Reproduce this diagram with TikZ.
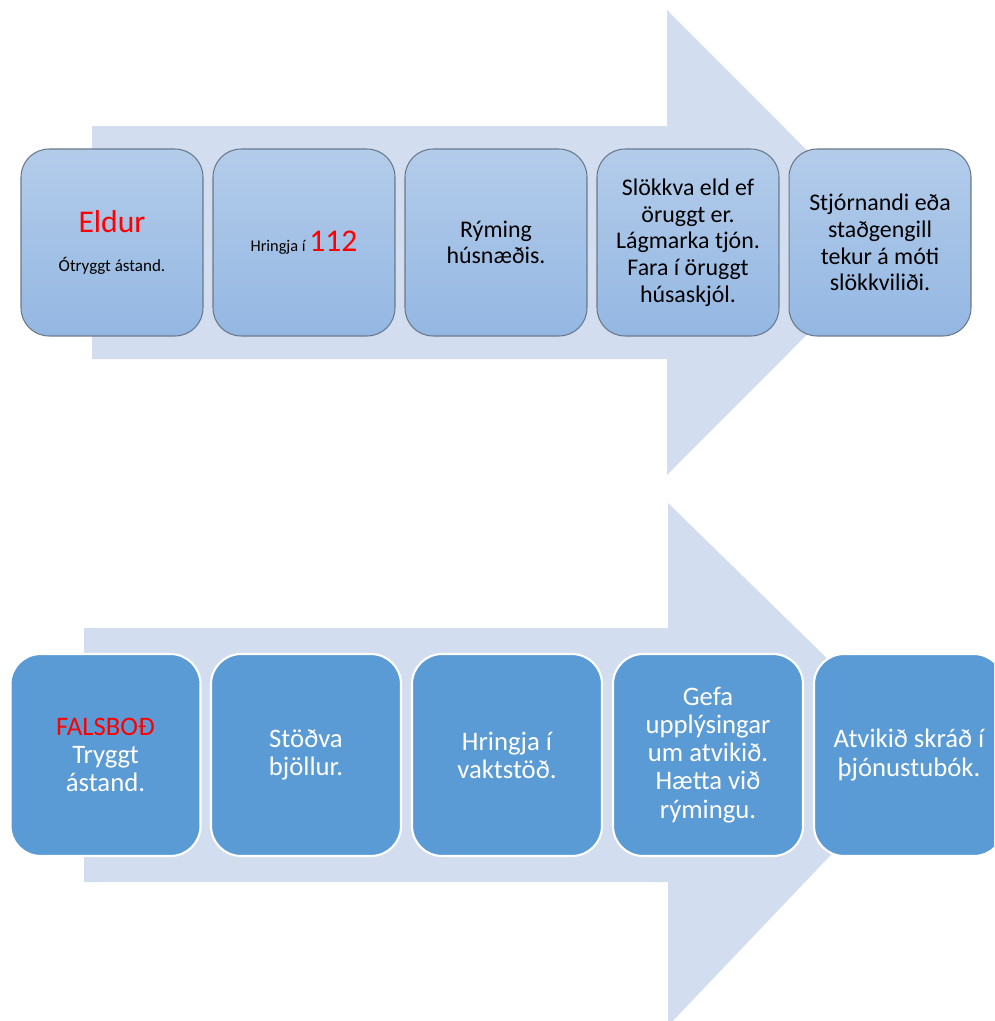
\documentclass[tikz,border=0pt]{standalone}
\usepackage{fontspec}
\setmainfont{Carlito}
\usetikzlibrary{positioning}
\definecolor{arrowfill}{RGB}{210,222,239}
\definecolor{boxtop}{RGB}{179,204,234}
\definecolor{boxbot}{RGB}{148,183,226}
\definecolor{boxline}{RGB}{106,120,138}
\definecolor{stepblue}{RGB}{91,155,213}
\definecolor{alarmred}{RGB}{255,0,0}
\tikzset{
  topbox/.style={rectangle, rounded corners=0.56cm, draw=boxline, line width=0.6pt,
    top color=boxtop, bottom color=boxbot, minimum width=3.64cm, minimum height=3.74cm,
    align=center, inner sep=2pt, font=\fontsize{13.6}{15.2}\selectfont},
  lowbox/.style={rectangle, rounded corners=0.6cm, draw=white, line width=1.2pt,
    fill=stepblue, text=white, minimum width=3.8cm, minimum height=4.04cm,
    align=center, inner sep=2pt, font=\fontsize{15.2}{16}\selectfont}
}
\begin{document}
\begin{tikzpicture}[x=0.02cm, y=-0.02cm]
\useasboundingbox (0,0) rectangle (994,1021);
\clip (0,0) rectangle (994,1021);
% top arrow
\fill[arrowfill] (92,126) -- (667,126) -- (667,10) -- (899,242.5) -- (667,475) -- (667,359) -- (92,359) -- cycle;
\node[topbox, font=\fontsize{9.7}{22}\selectfont] (eldur) at (112,242.5) {{\fontsize{18}{21}\selectfont\color{alarmred}Eldur}\\Ótryggt ástand.};
\node[topbox, font=\fontsize{9.3}{11}\selectfont] (hringja) at (304,242.5) {Hringja í {\fontsize{18}{21}\selectfont\color{alarmred}112}};
\node[topbox] (ryming) at (496,242.5) {Rýming\\húsnæðis.};
\node[topbox] (slokkva) at (688,242.5) {Slökkva eld ef\\öruggt er.\\Lágmarka tjón.\\Fara í öruggt\\húsaskjól.};
\node[topbox] (stjornandi) at (880,242.5) {Stjórnandi eða\\staðgengill\\tekur á móti\\slökkviliði.};
% bottom arrow
\fill[arrowfill] (84,628) -- (668,628) -- (668,503) -- (926,755) -- (668,1026) -- (668,882) -- (84,882) -- cycle;
\node[lowbox] (falsbod) at (105.5,755) {{\color{alarmred}FALSBOÐ}\\Tryggt\\ástand.};
\node[lowbox] (stodva) at (306,755) {Stöðva\\bjöllur.};
\node[lowbox] (vaktstod) at (507,755) {Hringja í\\vaktstöð.};
\node[lowbox] (gefa) at (708,755) {Gefa\\upplýsingar\\um atvikið.\\Hætta við\\rýmingu.};
\node[lowbox] (atvikid) at (909,755) {Atvikið skráð í\\þjónustubók.};
\end{tikzpicture}
\end{document}
